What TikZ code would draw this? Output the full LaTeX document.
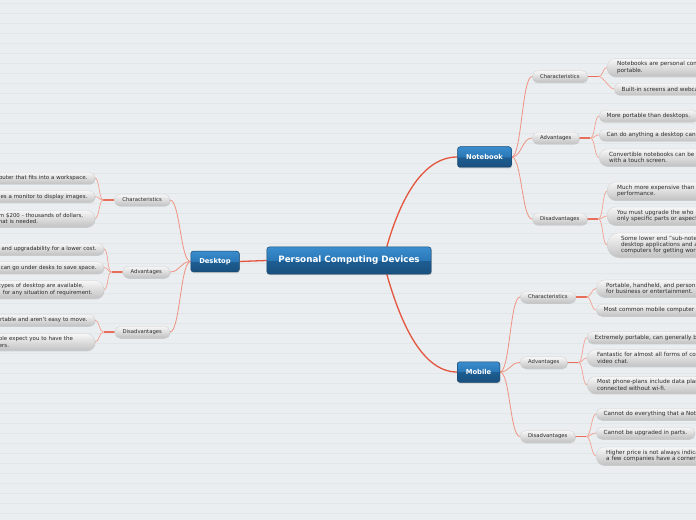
\documentclass[tikz,border=0pt]{standalone}
\usepackage{fontspec}
\setmainfont{DejaVu Sans}
\usetikzlibrary{positioning, shadows, backgrounds}
\hyphenpenalty=10000
\exhyphenpenalty=10000

\definecolor{paper}{HTML}{EAEEF0}
\definecolor{ruling}{HTML}{E1E6E9}
\definecolor{bough}{HTML}{E4553F}
\definecolor{limb}{HTML}{EF9282}
\definecolor{twig}{HTML}{F2A092}
\definecolor{inktext}{HTML}{2C2C2C}
\definecolor{blueA}{HTML}{3A8DCE}
\definecolor{blueB}{HTML}{2A77B6}
\definecolor{blueC}{HTML}{1E5E92}
\definecolor{blueD}{HTML}{19507F}
\definecolor{blueedge}{HTML}{174870}

% glossy blue: light upper half, dark lower half
\pgfdeclareverticalshading{glossblue}{100bp}{color(0bp)=(blueD); color(25bp)=(blueD); color(50bp)=(blueC); color(50bp)=(blueB); color(75bp)=(blueA); color(100bp)=(blueA)}

\tikzset{
  topicbox/.style={rectangle, rounded corners=2.5bp, draw=blueedge, line width=0.5bp,
    shading=glossblue, text=white, font=\bfseries\fontsize{6.8}{8}\selectfont,
    inner xsep=8.5bp, minimum height=20.5bp,
    drop shadow={shadow xshift=0.6bp, shadow yshift=-1.2bp, opacity=0.35}},
  rootbox/.style={topicbox, font=\bfseries\fontsize{8.8}{10}\selectfont,
    inner xsep=11.5bp, minimum height=27bp},
  pill/.style={rectangle, rounded corners=5.5bp, top color=white!97!black,
    bottom color=black!24, draw=black!20, line width=0.25bp, text=inktext,
    font=\fontsize{5.3}{6.2}\selectfont, minimum height=11.5bp,
    inner xsep=8bp, inner ysep=1.5bp,
    drop shadow={shadow xshift=0.5bp, shadow yshift=-1bp, opacity=0.3}},
  leaf/.style={pill, font=\fontsize{5.7}{6.3}\selectfont, inner xsep=7.5bp,
    inner ysep=2.5bp, align=left},
  leaftwo/.style={leaf, rounded corners=8.5bp, inner xsep=10bp, inner ysep=3.1bp},
  leafthree/.style={leaf, rounded corners=12bp, inner xsep=14bp, inner ysep=3.1bp},
  westleaf/.style={font=\fontsize{5.5}{6.3}\selectfont, anchor=east},
  boughline/.style={draw=bough, line width=1.3bp},
  limbline/.style={draw=limb, line width=0.8bp},
  stubline/.style={draw=bough!85, line width=1.6bp},
  twigline/.style={draw=twig, line width=0.7bp},
}

\begin{document}
\begin{tikzpicture}[x=1bp, y=-1bp, line cap=round]
	% -------- Tunables --------
	\def\hk{4.5}      % half span of a leaf connector
	\def\hl{10}       % half span of a topic connector
	
	\path[use as bounding box] (0,0) rectangle (696,520);
	\clip (0,0) rectangle (696,520);
	
	% -------- Hub and topics --------
	\node[rootbox] (pcd) at (349,260.5) {Personal Computing Devices};
	\node[topicbox] (desk) at (215,261.5) {Desktop};
	\node[topicbox] (note) at (484.5,157) {Notebook};
	\node[topicbox] (mob) at (478.5,372) {Mobile};
	
	% -------- Sub topics --------
	\node[pill, anchor=east] (dchar) at (170,200) {Characteristics};
	\node[pill, anchor=east] (dadv) at (170,272) {Advantages};
	\node[pill, anchor=east] (ddis) at (170,332) {Disadvantages};
	\node[pill, anchor=west] (nchar) at (532,76.5) {Characteristics};
	\node[pill, anchor=west] (nadv) at (532,138) {Advantages};
	\node[pill, anchor=west] (ndis) at (532,219) {Disadvantages};
	\node[pill, anchor=west] (mchar) at (520,297) {Characteristics};
	\node[pill, anchor=west] (madv) at (520,362.5) {Advantages};
	\node[pill, anchor=west] (mdis) at (520,436.5) {Disadvantages};
	
	% stub ends
	\coordinate[left=11bp of dchar] (dchar-s);
	\coordinate[left=11bp of dadv] (dadv-s);
	\coordinate[left=11bp of ddis] (ddis-s);
	\coordinate[right=11bp of nchar] (nchar-s);
	\coordinate[right=11bp of nadv] (nadv-s);
	\coordinate[right=11bp of ndis] (ndis-s);
	\coordinate[right=11bp of mchar] (mchar-s);
	\coordinate[right=11bp of madv] (madv-s);
	\coordinate[right=11bp of mdis] (mdis-s);
	
	% -------- Desktop leaves (cut at left edge) --------
	\node[leaf, westleaf, text width=120bp, align=right] (dc1) at (95,178) {puter that fits into a workspace.};
	\node[leaf, westleaf, text width=120bp, align=right] (dc2) at (95,196.5) {es a monitor to display images.};
	\node[leaftwo, westleaf, text width=86bp] (dc3) at (95,218.5) {m \$200 - thousands of dollars,\\hat is needed.};
	\node[leaf, westleaf, text width=120bp, align=right] (da1) at (104,249) {and upgradability for a lower cost.};
	\node[leaf, westleaf, text width=120bp, align=right] (da2) at (104,267.5) {can go under desks to save space.};
	\node[leaftwo, westleaf, text width=95bp] (da3) at (104,289.5) {types of desktop are available,\\\hspace*{4bp}for any situation of requirement.};
	\node[leaf, westleaf, text width=120bp, align=right] (dd1) at (95,320) {rtable and aren't easy to move.};
	\node[leaftwo, westleaf, text width=86bp] (dd2) at (95,342) {ple expect you to have the\\ers.};
	
	% -------- Notebook leaves (cut at right edge) --------
	\node[leaftwo, anchor=west, text width=150bp] (nc1) at (607,67.5) {Notebooks are personal com\\portable.};
	\node[leaf, anchor=west, text width=150bp] (nc2) at (614,89) {Built-in screens and webcam};
	\node[leaf, anchor=west] (na1) at (599,116) {More portable than desktops.};
	\node[leaf, anchor=west, text width=150bp] (na2) at (599,135) {Can do anything a desktop can,};
	\node[leaftwo, anchor=west, text width=150bp] (na3) at (599,157.5) {Convertible notebooks can be u\\with a touch screen.};
	\node[leaftwo, anchor=west, text width=150bp] (nd1) at (607,191) {Much more expensive than a\\performance.};
	\node[leaftwo, anchor=west, text width=150bp] (nd2) at (607,216) {You must upgrade the who\\only specific parts or aspect};
	\node[leafthree, anchor=west, text width=150bp] (nd3) at (607,245) {Some lower end "sub-note\\desktop applications and a\\computers for getting work};
	
	% -------- Mobile leaves --------
	\node[leaftwo, anchor=west, text width=150bp] (mc1) at (596,288.5) {Portable, handheld, and persona\\for business or entertainment.};
	\node[leaf, anchor=west, text width=150bp] (mc2) at (596,310) {Most common mobile computer i};
	\node[leaf, anchor=west, text width=150bp] (ma1) at (587,337.5) {Extremely portable, can generally be};
	\node[leaftwo, anchor=west, text width=150bp] (ma2) at (587,358) {Fantastic for almost all forms of com\\video chat.};
	\node[leaftwo, anchor=west, text width=150bp] (ma3) at (587,385) {Most phone-plans include data plan\\connected without wi-fi.};
	\node[leaf, anchor=west, text width=150bp] (md1) at (596,414) {Cannot do everything that a Not};
	\node[leaf, anchor=west] (md2) at (596,433) {Cannot be upgraded in parts.};
	\node[leaftwo, anchor=west, text width=150bp] (md3) at (596,456) {Higher price is not always indica\\a few companies have a corner o};
	
	\begin{pgfonlayer}{background}
		% paper with faint rulings
		\fill[paper] (0,0) rectangle (696,520);
		\foreach \k in {0,...,51}{
			\draw[ruling, line width=1.2bp] (0,{3.3+10*\k}) -- (696,{3.3+10*\k});
		}
		
		% hub to topics
		\draw[boughline] (pcd.west) -- (desk.east);
		\draw[boughline] (pcd.20) .. controls +(12,-42) and +(-37,0) .. (note.west);
		\draw[boughline] (pcd.-20) .. controls +(12,42) and +(-37,0) .. (mob.west);
		
		% topics to sub topics
		\foreach \s in {dchar,dadv,ddis}
			\draw[limbline] (desk.west) .. controls +(-\hl,0) and +(\hl,0) .. (\s.east);
		\foreach \s in {nchar,nadv,ndis}
			\draw[limbline] (note.east) .. controls +(\hl,0) and +(-\hl,0) .. (\s.west);
		\foreach \s in {mchar,madv,mdis}
			\draw[limbline] (mob.east) .. controls +(\hl,0) and +(-\hl,0) .. (\s.west);
		
		% stubs
		\foreach \s in {dchar,dadv,ddis}
			\draw[stubline] (\s.west) -- (\s-s);
		\foreach \s in {nchar,nadv,ndis,mchar,madv,mdis}
			\draw[stubline] (\s.east) -- (\s-s);
		
		% sub topics to leaves
		\foreach \l in {dc1,dc2,dc3}
			\draw[twigline] (dchar-s) .. controls +(-\hk,0) and +(\hk,0) .. (\l.east);
		\foreach \l in {da1,da2,da3}
			\draw[twigline] (dadv-s) .. controls +(-\hk,0) and +(\hk,0) .. (\l.east);
		\foreach \l in {dd1,dd2}
			\draw[twigline] (ddis-s) .. controls +(-\hk,0) and +(\hk,0) .. (\l.east);
		\foreach \l in {nc1,nc2}
			\draw[twigline] (nchar-s) .. controls +(\hk,0) and +(-\hk,0) .. (\l.west);
		\foreach \l in {na1,na2,na3}
			\draw[twigline] (nadv-s) .. controls +(\hk,0) and +(-\hk,0) .. (\l.west);
		\foreach \l in {nd1,nd2,nd3}
			\draw[twigline] (ndis-s) .. controls +(\hk,0) and +(-\hk,0) .. (\l.west);
		\foreach \l in {mc1,mc2}
			\draw[twigline] (mchar-s) .. controls +(\hk,0) and +(-\hk,0) .. (\l.west);
		\foreach \l in {ma1,ma2,ma3}
			\draw[twigline] (madv-s) .. controls +(\hk,0) and +(-\hk,0) .. (\l.west);
		\foreach \l in {md1,md2,md3}
			\draw[twigline] (mdis-s) .. controls +(\hk,0) and +(-\hk,0) .. (\l.west);
	\end{pgfonlayer}
\end{tikzpicture}
\end{document}
